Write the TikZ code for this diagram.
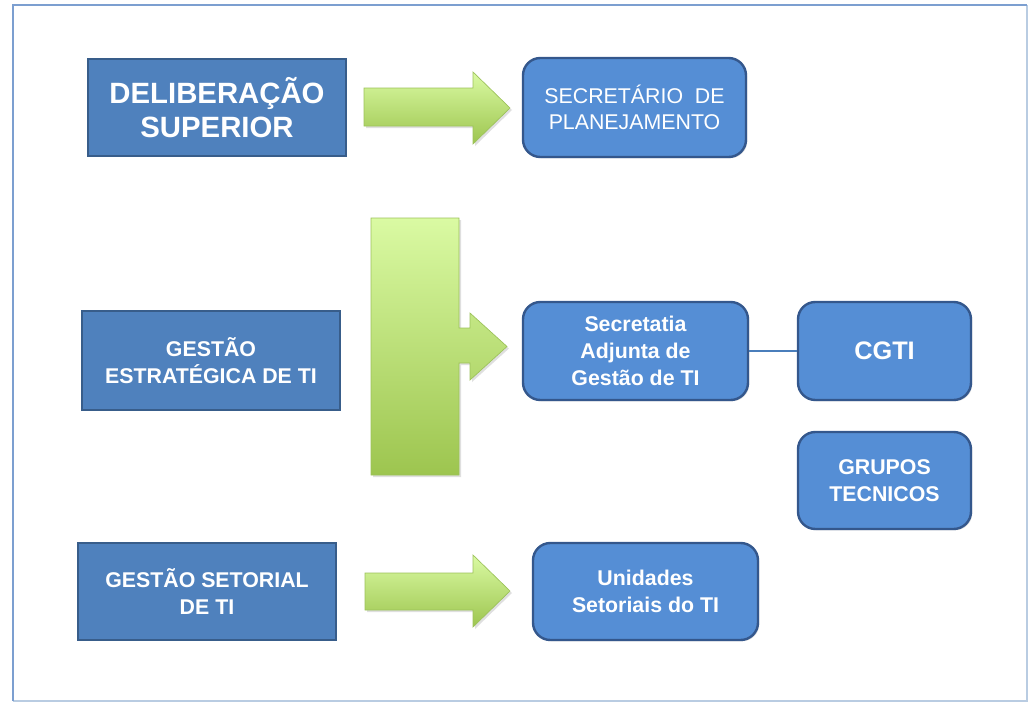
\documentclass[tikz,border=0pt]{standalone}
\usepackage{fontspec}
\setmainfont{Liberation Sans}
\usetikzlibrary{shadows}
\definecolor{sqfill}{HTML}{4F81BD}
\definecolor{sqline}{HTML}{385D8A}
\definecolor{rdfill}{HTML}{558ED5}
\definecolor{rdline}{HTML}{34578C}
\definecolor{gtop}{HTML}{DAFAA3}
\definecolor{gbot}{HTML}{9DC54F}
\definecolor{gline}{HTML}{9CC25A}
\definecolor{frameA}{HTML}{7C9FD0}
\definecolor{frameB}{HTML}{B9CCE2}
\definecolor{linkc}{HTML}{4A7EBB}
\tikzset{
  sqbox/.style={draw=sqline, fill=sqfill, line width=1.8pt, text=white, align=center, inner sep=0pt,
    drop shadow={opacity=0.25, shadow xshift=1pt, shadow yshift=-1pt}},
  rdbox/.style={draw=rdline, fill=rdfill, line width=1.8pt, rounded corners=13pt, text=white, align=center, inner sep=0pt,
    drop shadow={opacity=0.25, shadow xshift=1pt, shadow yshift=-1pt}},
  garrow/.style={draw=gline, line width=0.5pt, top color=gtop, bottom color=gbot,
    drop shadow={opacity=0.25, shadow xshift=1.5pt, shadow yshift=-1.5pt}},
  boldtxt/.style={font=\bfseries\fontsize{16}{20}\selectfont},
}
\begin{document}
\begin{tikzpicture}[x=0.75pt,y=-0.75pt]
\useasboundingbox (0,0) rectangle (1029,703);
% frame
\draw[frameB, line width=1.5pt] (1027,5) -- (1027,701) -- (13,701);
\draw[frameA, line width=1.5pt] (13,701) -- (13,5) -- (1027,5);

% square boxes
\node[sqbox, minimum width=193.5pt, minimum height=72.75pt, font=\bfseries\fontsize{22}{25}\selectfont]
  (delib) at (217,107.5) {DELIBERAÇÃO\\SUPERIOR};
\node[sqbox, boldtxt, minimum width=193.5pt, minimum height=74.25pt]
  (gestrat) at (211,360.5) {GESTÃO\\ESTRATÉGICA DE TI};
\node[sqbox, boldtxt, minimum width=193.5pt, minimum height=72.75pt]
  (gsetor) at (207,591.5) {GESTÃO SETORIAL\\DE TI};

% rounded boxes
\node[rdbox, minimum width=167.25pt, minimum height=74.25pt, font=\fontsize{16}{19.5}\selectfont]
  (secplan) at (634.5,107.5) {SECRETÁRIO\ \ DE\\PLANEJAMENTO};
\node[rdbox, boldtxt, minimum width=168.75pt, minimum height=73.5pt]
  (secadj) at (635.5,351) {Secretatia\\Adjunta de\\Gestão de TI};
\node[rdbox, minimum width=129.75pt, minimum height=73.5pt, font=\bfseries\fontsize{19}{22}\selectfont]
  (cgti) at (884.5,351) {CGTI};
\node[rdbox, boldtxt, minimum width=129.75pt, minimum height=72.75pt]
  (grupos) at (884.5,480.5) {GRUPOS\\TECNICOS};
\node[rdbox, boldtxt, minimum width=168.75pt, minimum height=72.75pt]
  (unid) at (645.5,591.5) {Unidades\\Setoriais do TI};

% link
\draw[linkc, line width=1pt] (secadj.east) -- (cgti.west);

% green block arrows
\path[garrow] (364,88) -- (473,88) -- (473,72) -- (510,108) -- (473,144) -- (473,126) -- (364,126) -- cycle;
\path[garrow] (365,573) -- (473,573) -- (473,555) -- (510,591) -- (473,627) -- (473,610) -- (365,610) -- cycle;
\path[garrow] (371,218) -- (459,218) -- (459,328) -- (470,328) -- (470,313) -- (507,346.5) -- (470,380)
  -- (470,363) -- (459,363) -- (459,475) -- (371,475) -- cycle;
\end{tikzpicture}
\end{document}
